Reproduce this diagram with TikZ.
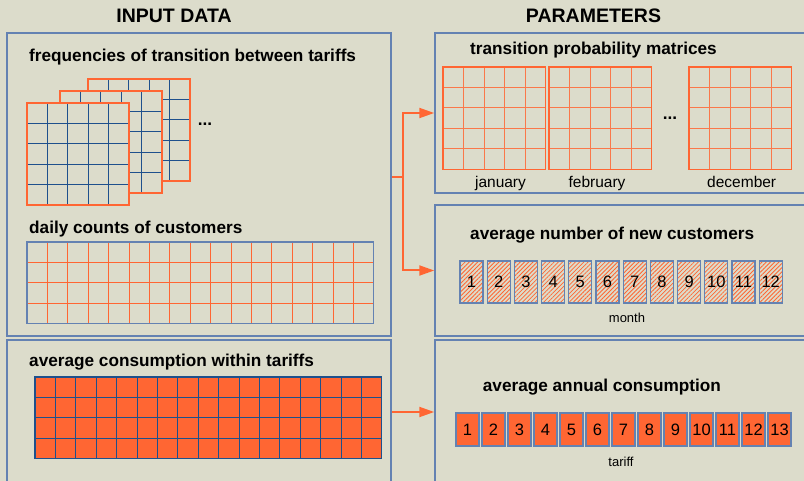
\documentclass[tikz,border=0pt]{standalone}
\usepackage{fontspec}
\setmainfont{Liberation Sans}
\usetikzlibrary{arrows.meta,patterns.meta}
\definecolor{paper}{RGB}{220,220,203}
\definecolor{tomato}{RGB}{255,102,51}
\definecolor{frame}{RGB}{100,130,178}
\definecolor{gridblue}{RGB}{30,80,140}

\begin{document}
\begin{tikzpicture}[x=1pt,y=-1pt]
	\tikzstyle{panel} = [draw=frame,line width=1.5pt,inner sep=0pt]
	\tikzstyle{heading} = [font=\fontsize{19.5}{22}\selectfont\bfseries,anchor=base,inner sep=0pt]
	\tikzstyle{subhead} = [font=\fontsize{17.2}{20}\selectfont\bfseries,anchor=base west,inner sep=0pt]
	\tikzstyle{caption} = [font=\fontsize{15.5}{18}\selectfont,anchor=base,inner sep=0pt]
	\tikzstyle{axis} = [font=\fontsize{13}{15}\selectfont,anchor=base,inner sep=0pt]
	\tikzstyle{cell} = [draw=frame,line width=1.2pt,minimum width=23pt,inner sep=0pt,font=\fontsize{16.5}{18}\selectfont]
	\tikzstyle{link} = [draw=tomato,line width=2pt]
	\tikzstyle{tip} = [-{Triangle[length=15pt,width=10pt]}]

	\fill[paper] (0,0) rectangle (804,481);
	\useasboundingbox (0,0) rectangle (804,481);
	\clip (0,0) rectangle (804,481);

	% headings
	\node[heading] (inhead) at (174,22.5) {INPUT DATA};
	\node[heading] (parhead) at (593.5,22.5) {PARAMETERS};

	% panels
	\node[panel,minimum width=384pt,minimum height=303pt] (freq) at (199,184.5) {};
	\node[panel,minimum width=384pt,minimum height=144pt] (cons) at (199,412) {};
	\node[panel,minimum width=377pt,minimum height=160pt] (trans) at (623.5,113) {};
	\node[panel,minimum width=377pt,minimum height=131pt] (newc) at (623.5,270.5) {};
	\node[panel,minimum width=377pt,minimum height=144pt] (annual) at (623.5,412) {};

	\node[subhead] (freqlbl) at (29,61.5) {frequencies of transition between tariffs};
	\node[subhead] (dailylbl) at (29,234) {daily counts of customers};
	\node[subhead] (conslbl) at (29,366.5) {average consumption within tariffs};
	\node[subhead] (translbl) at (470,54.3) {transition probability matrices};
	\node[subhead] (newclbl) at (470,239.3) {average number of new customers};
	\node[subhead] (annuallbl) at (482.7,391.7) {average annual consumption};

	% stacked frequency matrices
	\foreach \mx/\my in {88/79,60/91,27/103}{
		\fill[paper] (\mx,\my) rectangle ++(102,102);
		\foreach \k in {1,...,4}{
			\draw[gridblue,line width=1pt] ({\mx+20.4*\k},\my) -- ++(0,102);
			\draw[gridblue,line width=1pt] (\mx,{\my+20.4*\k}) -- ++(102,0);
		}
		\draw[tomato,line width=1.5pt] (\mx,\my) rectangle ++(102,102);
	}
	\node[subhead,anchor=base] (moreleft) at (205,126) {...};

	% daily counts
	\foreach \k in {1,...,16} \draw[tomato,line width=1pt] ({27+20.4*\k},242) -- ++(0,81.6);
	\foreach \k in {1,2,3} \draw[tomato,line width=1pt] (27,{242+20.4*\k}) -- ++(346.8,0);
	\draw[frame,line width=1.2pt] (27,242) rectangle ++(346.8,81.6);

	% consumption within tariffs
	\fill[tomato] (35,377) rectangle ++(346.8,81.6);
	\foreach \k in {1,...,16} \draw[gridblue,line width=1pt] ({35+20.4*\k},377) -- ++(0,81.6);
	\foreach \k in {1,2,3} \draw[gridblue,line width=1pt] (35,{377+20.4*\k}) -- ++(346.8,0);
	\draw[gridblue,line width=1.2pt] (35,377) rectangle ++(346.8,81.6);

	% transition probability matrices
	\foreach \mx in {443,549,689}{
		\foreach \k in {1,...,4}{
			\draw[tomato!85!paper,line width=1pt] ({\mx+20.5*\k},67) -- ++(0,102.5);
			\draw[tomato!85!paper,line width=1pt] (\mx,{67+20.5*\k}) -- ++(102.5,0);
		}
		\draw[tomato,line width=1.5pt] (\mx,67) rectangle ++(102.5,102.5);
	}
	\node[subhead,anchor=base] (moreright) at (670,120) {...};
	\node[caption] (jan) at (500.5,187.5) {january};
	\node[caption] (feb) at (597,187.5) {february};
	\node[caption] (dec) at (741.7,187.5) {december};

	% new customers per month
	\foreach \k in {1,...,12}
		\node[cell,minimum height=42pt,pattern={Lines[angle=45,distance=3pt,line width=0.8pt]},pattern color=tomato] (m\k) at ({471.5+27.2*(\k-1)},282) {\k};
	\node[axis] (monthlbl) at (627,322.7) {month};

	% annual consumption per tariff
	\foreach \k in {1,...,13}
		\node[cell,minimum height=33pt,fill=tomato] (t\k) at ({467.5+26*(\k-1)},429.5) {\k};
	\node[axis] (tarifflbl) at (621,466) {tariff};

	% connectors
	\draw[link] ([yshift=7.5pt]freq.east) -- ++(11,0) coordinate (fork);
	\draw[link,tip] (fork) |- (trans.west);
	\draw[link,tip] (fork) |- (newc.west);
	\draw[link,tip] (cons.east) -- (annual.west);

\end{tikzpicture}
\end{document}
